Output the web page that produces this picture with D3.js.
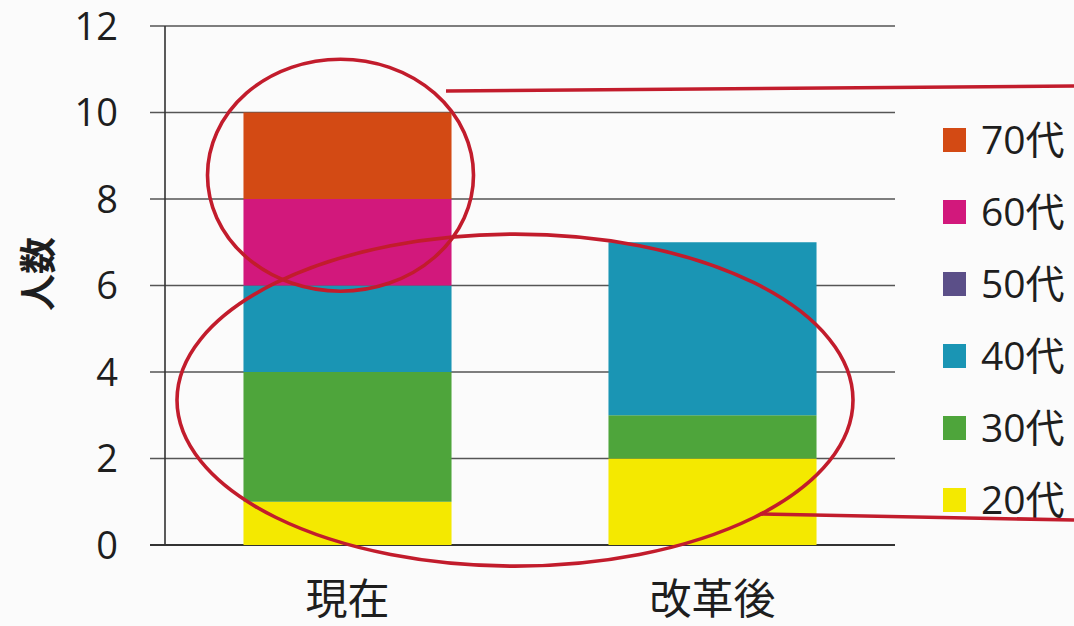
<!doctype html>
<html>
<head>
<meta charset="utf-8">
<title>人数</title>
<script src="https://cdn.jsdelivr.net/npm/d3@7"></script>
<style>
  body { margin: 0; background: #fbfbfb; }
  text { font-family: "Open Sans", "Noto Sans CJK JP", sans-serif; fill: #1e1e1e; }
</style>
</head>
<body>
<div id="chart-area"></div>
<script>
// data
var categories = ["現在", "改革後"];
var ageGroups = ["20代", "30代", "40代", "50代", "60代", "70代"];
var counts = {
  "20代": [1, 2],
  "30代": [3, 1],
  "40代": [2, 4],
  "50代": [0, 0],
  "60代": [2, 0],
  "70代": [2, 0]
};
var yTicks = [0, 2, 4, 6, 8, 10, 12];
var colors = ["#f4e900", "#4ea53b", "#1a95b4", "#5b4f88", "#d2187c", "#d34a14"];

var W = 1074, H = 626;
var margin = { left: 165, right: 179, top: 26, bottom: 81 };

var svg = d3.select("#chart-area").append("svg")
    .attr("width", W).attr("height", H);

var x = d3.scaleBand().domain(categories)
    .range([margin.left, W - margin.right])
    .paddingInner(0.43).paddingOuter(0.215);
var y = d3.scaleLinear().domain([0, 12]).range([H - margin.bottom, margin.top]);
var color = d3.scaleOrdinal().domain(ageGroups).range(colors);

// gridlines + ticks
svg.append("g").selectAll("line").data(yTicks).enter().append("line")
    .attr("x1", margin.left - 15).attr("x2", W - margin.right)
    .attr("y1", function(d){ return y(d); }).attr("y2", function(d){ return y(d); })
    .attr("stroke", function(d){ return d == 0 ? "#333" : "#555"; })
    .attr("stroke-width", function(d){ return d == 0 ? 1.8 : 1.3; });

svg.append("line")
    .attr("x1", margin.left).attr("x2", margin.left)
    .attr("y1", y(12)).attr("y2", y(0))
    .attr("stroke", "#333").attr("stroke-width", 1.6);

svg.append("g").selectAll("text").data(yTicks).enter().append("text")
    .attr("x", 118).attr("y", function(d){ return y(d); })
    .attr("dy", "0.36em").attr("text-anchor", "end")
    .attr("font-size", "38px").text(function(d){ return d; });

// y title
svg.append("text")
    .attr("transform", "translate(39,274) rotate(-90)")
    .attr("text-anchor", "middle").attr("dy", "0.36em")
    .attr("font-size", "37px").attr("font-weight", "bold")
    .text("人数");

// stacked bars
var rows = categories.map(function(c, i){
  var r = { cat: c };
  ageGroups.forEach(function(a){ r[a] = counts[a][i]; });
  return r;
});
var stacked = d3.stack().keys(ageGroups)(rows);

svg.append("g").selectAll("g").data(stacked).enter().append("g")
    .attr("fill", function(d){ return color(d.key); })
    .selectAll("rect").data(function(d){ return d; }).enter().append("rect")
    .attr("x", function(d){ return x(d.data.cat); })
    .attr("width", x.bandwidth())
    .attr("y", function(d){ return y(d[1]); })
    .attr("height", function(d){ return y(d[0]) - y(d[1]); });

// x labels
svg.append("g").selectAll("text").data(categories).enter().append("text")
    .attr("x", function(d){ return x(d) + x.bandwidth() / 2; })
    .attr("y", 614).attr("text-anchor", "middle")
    .attr("font-size", "42px").text(function(d){ return d; });

// legend (top = 70代)
var legend = svg.append("g").attr("transform", "translate(943,140)");
ageGroups.slice().reverse().forEach(function(a, i){
  var row = legend.append("g").attr("transform", "translate(0," + (i * 72) + ")");
  row.append("rect").attr("x", 0).attr("y", -12).attr("width", 23).attr("height", 24)
      .attr("fill", color(a));
  row.append("text").attr("x", 38).attr("y", 0).attr("dy", "0.36em")
      .attr("font-size", "39px").text(a);
});

// red annotations
var red = "#c21c2c";
var ann = svg.append("g").attr("fill", "none").attr("stroke", red).attr("stroke-width", 3.6);
var cx0 = x("現在") + x.bandwidth() / 2;
ann.append("ellipse").attr("cx", cx0 - 7).attr("cy", y(8.55))
    .attr("rx", 133).attr("ry", 116);
ann.append("ellipse").attr("cx", 515).attr("cy", y(3.35))
    .attr("rx", 338).attr("ry", 166);
ann.append("line").attr("x1", 446).attr("y1", 91).attr("x2", W).attr("y2", 86);
ann.append("line").attr("x1", 760).attr("y1", 514).attr("x2", W).attr("y2", 520);
</script>
</body>
</html>
